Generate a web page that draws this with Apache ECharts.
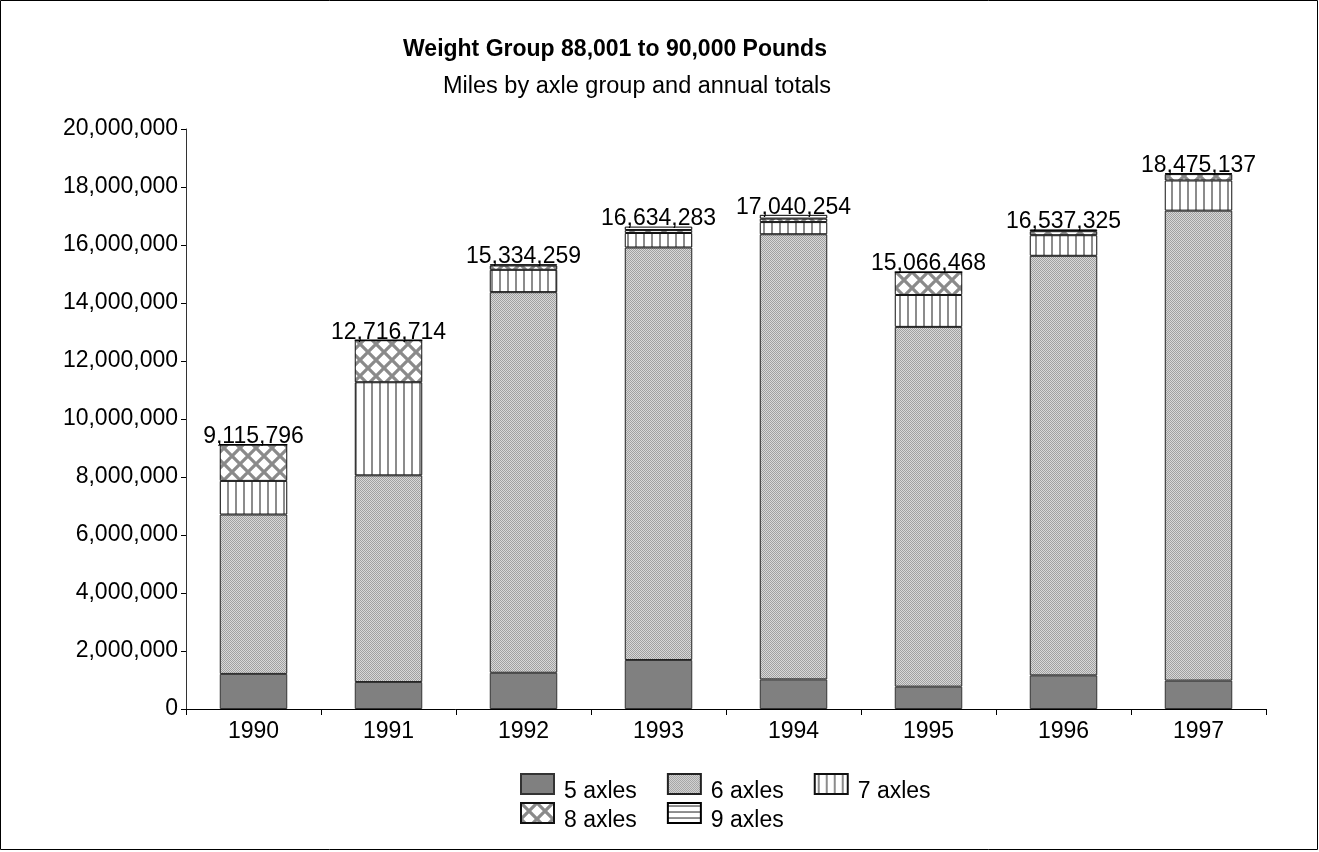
<!DOCTYPE html>
<html>
<head>
<meta charset="utf-8">
<script src="https://cdn.jsdelivr.net/npm/echarts@6/dist/echarts.min.js"></script>
<style>
  html, body { margin: 0; padding: 0; background: #fff; }
  #chart { width: 1319px; height: 852px; }
</style>
</head>
<body>
<div id="chart"></div>
<script>
// Miles travelled per year, split by axle group
const years = ['1990', '1991', '1992', '1993', '1994', '1995', '1996', '1997'];
const axles5 = [1210000, 930000, 1250000, 1690000, 1020000, 770000, 1160000, 980000];
const axles6 = [5495796, 7126714, 13124259, 14224283, 15350254, 12406468, 14467325, 16205137];
const axles7 = [1160000, 3210000, 770000, 500000, 420000, 1100000, 710000, 1040000];
const axles8 = [1250000, 1450000, 150000, 100000, 120000, 790000, 140000, 220000];
const axles9 = [0, 0, 40000, 120000, 130000, 0, 60000, 30000];
const totals = [9115796, 12716714, 15334259, 16634283, 17040254, 15066468, 16537325, 18475137];
const yTicks = { min: 0, max: 20000000, interval: 2000000 };

const FONT = "'Liberation Sans', Arial, sans-serif";

function tile(w, h, draw) {
  const c = document.createElement('canvas');
  c.width = w; c.height = h;
  const g = c.getContext('2d');
  g.fillStyle = '#fff';
  g.fillRect(0, 0, w, h);
  draw(g, w, h);
  return { image: c, repeat: 'repeat' };
}

// fine dithered grey
const fill6 = tile(4, 4, (g) => {
  g.fillStyle = '#d8d8d8'; g.fillRect(0, 0, 4, 4);
  g.fillStyle = '#a0a0a0';
  g.fillRect(0, 0, 1, 1); g.fillRect(2, 0, 1, 1);
  g.fillRect(1, 1, 1, 1); g.fillRect(3, 1, 1, 1);
  g.fillRect(0, 2, 1, 1); g.fillRect(2, 2, 1, 1);
  g.fillRect(1, 3, 1, 1); g.fillRect(3, 3, 1, 1);
});
// vertical stripes
const fill7 = tile(8, 8, (g) => {
  g.fillStyle = '#8c8c8c'; g.fillRect(3, 0, 2, 8);
});
// diamond lattice
const fill8 = tile(16, 16, (g) => {
  g.strokeStyle = '#8a8a8a'; g.lineWidth = 3.2;
  g.beginPath();
  g.moveTo(-2, -2); g.lineTo(18, 18);
  g.moveTo(18, -2); g.lineTo(-2, 18);
  g.stroke();
});
// horizontal stripes
const fill9 = tile(6, 6, (g) => {
  g.fillStyle = '#8c8c8c'; g.fillRect(0, 2, 6, 2);
});

function bar(name, data, fill, border, extra) {
  return Object.assign({
    name, type: 'bar', stack: 'miles', data, barWidth: '50%',
    itemStyle: { color: fill, borderColor: border, borderWidth: 1 },
    emphasis: { disabled: true }
  }, extra || {});
}

const legendText = {
  fontSize: 23, color: '#000', fontFamily: FONT,
  rich: { t: { fontSize: 23, color: '#000', fontFamily: FONT, padding: [16, 0, 0, 5] } }
};
const legendBase = {
  orient: 'horizontal', left: 520, padding: 0, icon: 'rect',
  itemWidth: 33, itemHeight: 20, itemGap: 30, selectedMode: false,
  formatter: (name) => '{t|' + name + '}',
  textStyle: legendText
};

const chart = echarts.init(document.getElementById('chart'), null, { renderer: 'canvas' });
chart.setOption({
  animation: false,
  backgroundColor: '#fff',
  textStyle: { fontFamily: FONT },
  graphic: [
    { type: 'rect', shape: { x: 0.5, y: 0.5, width: 1317, height: 849 },
      style: { fill: 'none', stroke: '#000', lineWidth: 1 }, silent: true },
    { type: 'text', x: 615, y: 38,
      style: { text: 'Weight Group 88,001 to 90,000 Pounds', font: 'bold 23px ' + FONT,
               textAlign: 'center', fill: '#000' } },
    { type: 'text', x: 637, y: 75,
      style: { text: 'Miles by axle group and annual totals', font: '23.5px ' + FONT,
               textAlign: 'center', fill: '#000' } }
  ],
  grid: { left: 186, right: 53, top: 129, bottom: 143, containLabel: false },
  legend: [
    Object.assign({ data: ['5 axles', '6 axles', '7 axles'], top: 773 }, legendBase),
    Object.assign({ data: ['8 axles', '9 axles'], top: 802 }, legendBase)
  ],
  xAxis: {
    type: 'category', data: years, boundaryGap: true,
    axisLine: { lineStyle: { color: '#000', width: 1 } },
    axisTick: { show: true, length: 6, lineStyle: { color: '#000' } },
    axisLabel: { fontSize: 23, color: '#000', margin: 11, fontFamily: FONT }
  },
  yAxis: {
    type: 'value', min: yTicks.min, max: yTicks.max, interval: yTicks.interval,
    axisLine: { show: true, lineStyle: { color: '#333', width: 1 } },
    axisTick: { show: true, length: 5, lineStyle: { color: '#000' } },
    splitLine: { show: false },
    axisLabel: { fontSize: 23, color: '#000', margin: 8, fontFamily: FONT,
                 formatter: (v) => v.toLocaleString('en-US') }
  },
  series: [
    bar('5 axles', axles5, '#808080', '#333'),
    bar('6 axles', axles6, fill6, '#222'),
    bar('7 axles', axles7, fill7, '#111'),
    bar('8 axles', axles8, fill8, '#111'),
    bar('9 axles', axles9, fill9, '#000', {
      label: {
        show: true, position: 'top', distance: -4,
        fontSize: 23, color: '#000', fontFamily: FONT,
        formatter: (p) => totals[p.dataIndex].toLocaleString('en-US')
      }
    })
  ]
});
</script>
</body>
</html>
